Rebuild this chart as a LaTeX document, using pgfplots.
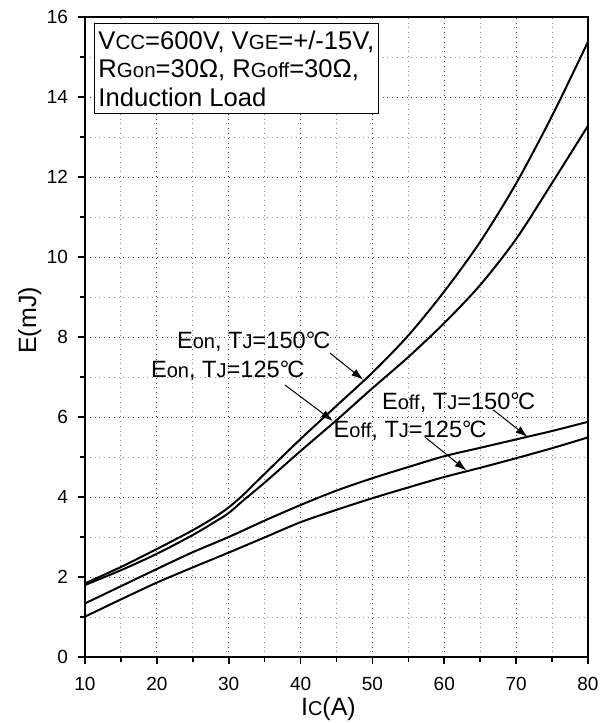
\documentclass[border=0pt]{standalone}
\usepackage{fontspec}
\setmainfont{Liberation Sans}
\usepackage{graphicx}
\usepackage{pgfplots}
\pgfplotsset{compat=1.18}
\usetikzlibrary{arrows.meta}
\newcommand\sm[1]{\scalebox{0.8}{#1}}
\newcommand\sn[1]{\scalebox{0.85}{#1}}
\newcommand\dg{°\kern-0.08em C}

\pgfplotstableread{
x y
10 1.84
15 2.25
20 2.70
25 3.17
28 3.49
30 3.74
32 4.05
35 4.58
40 5.45
45 6.28
50 7.11
55 8.04
60 9.14
65 10.38
70 11.84
75 13.53
80 15.38
}\eonhot

\pgfplotstableread{
x y
10 1.80
15 2.17
20 2.58
25 3.05
28 3.37
30 3.60
32 3.91
35 4.36
40 5.15
45 5.92
50 6.72
55 7.50
60 8.35
65 9.30
70 10.45
75 11.85
80 13.28
}\eonwarm

\pgfplotstableread{
x y
10 1.34
15 1.77
20 2.20
25 2.62
30 3.00
35 3.41
40 3.80
45 4.16
50 4.47
55 4.75
60 5.02
65 5.23
70 5.44
75 5.65
80 5.88
}\eoffhot

\pgfplotstableread{
x y
10 1.01
15 1.44
20 1.86
25 2.24
30 2.61
35 2.99
40 3.37
45 3.68
50 3.97
55 4.24
60 4.50
65 4.73
70 4.97
75 5.22
80 5.49
}\eoffwarm

\begin{document}
\begin{tikzpicture}
\begin{axis}[
  scale only axis,
  width=251.5pt, height=320pt,
  xmin=10, xmax=80, ymin=0, ymax=16,
  xtick={10,20,...,80}, ytick={0,2,...,16},
  minor x tick num=1, minor y tick num=1,
  tick align=outside, tick pos=left,
  major tick length=3.5pt, minor tick length=2.5pt,
  tick style={black, line width=0.8pt},
  axis line style={black, line width=1pt},
  grid=both,
  major grid style={dotted, black!75, line width=0.45pt},
  minor grid style={dotted, black!45, line width=0.45pt},
  /pgf/number format/assume math mode=true,
  ticklabel style={font=\fontsize{9.5}{11}\selectfont},
  xticklabel style={yshift=-3pt},
  yticklabel style={xshift=-1.5pt},
  xlabel={I\sm{C}(A)},
  label style={font=\fontsize{12.5}{14}\selectfont},
  xlabel style={at={(axis description cs:0.484,0)}, anchor=base, yshift=-29pt},
  clip=false,
]
\coordinate (bl) at (rel axis cs:0,0);
\coordinate (tr) at (rel axis cs:1,1);
\addplot[black, line width=1pt, smooth] table {\eonhot};
\addplot[black, line width=1pt, smooth] table {\eonwarm};
\addplot[black, line width=1pt, smooth] table {\eoffhot};
\addplot[black, line width=1pt, smooth] table {\eoffwarm};

\node[draw=black, line width=0.5pt, fill=white, anchor=north west, align=left,
  inner xsep=2pt, inner ysep=3.5pt, font=\fontsize{12.8}{14.35}\selectfont]
  at (axis cs:11.25,15.85)
  {V\sm{CC}=600V, V\sm{GE}=+/-15V,\\ R\sm{Gon}=30Ω, R\sm{Goff}=30Ω,\\ Induction Load};

\begin{scope}[every node/.style={inner sep=0pt, anchor=base west, font=\fontsize{11.8}{13}\selectfont}]
\node at (axis cs:22.76,7.7) {E\sn{on}, T\sn{J}=150\dg};
\node at (axis cs:19.14,6.99) {E\sn{on}, T\sn{J}=125\dg};
\node at (axis cs:51.29,6.19) {E\sn{off}, T\sn{J}=150\dg};
\node at (axis cs:44.56,5.49) {E\sn{off}, T\sn{J}=125\dg};
\end{scope}
\draw[-{Latex[length=6pt,width=4pt]}, line width=0.5pt] (axis cs:44.09,7.6) -- (axis cs:48.73,6.93);
\draw[-{Latex[length=6pt,width=4pt]}, line width=0.5pt] (axis cs:37.83,6.8) -- (axis cs:44.5,5.9);
\draw[-{Latex[length=6pt,width=4pt]}, line width=0.5pt] (axis cs:66.8,6.18) -- (axis cs:71.6,5.5);
\draw[-{Latex[length=6pt,width=4pt]}, line width=0.5pt] (axis cs:57.3,5.5) -- (axis cs:63.1,4.66);
\end{axis}
\node[rotate=90, anchor=base, font=\fontsize{12.5}{14}\selectfont]
  at ([xshift=-24.5pt]bl |- 0,168.3pt) {E(mJ)};
\pgfresetboundingbox
\path[use as bounding box] ([xshift=-42.5pt,yshift=-33pt]bl) rectangle ([xshift=6pt,yshift=8.5pt]tr);
\end{tikzpicture}
\end{document}
